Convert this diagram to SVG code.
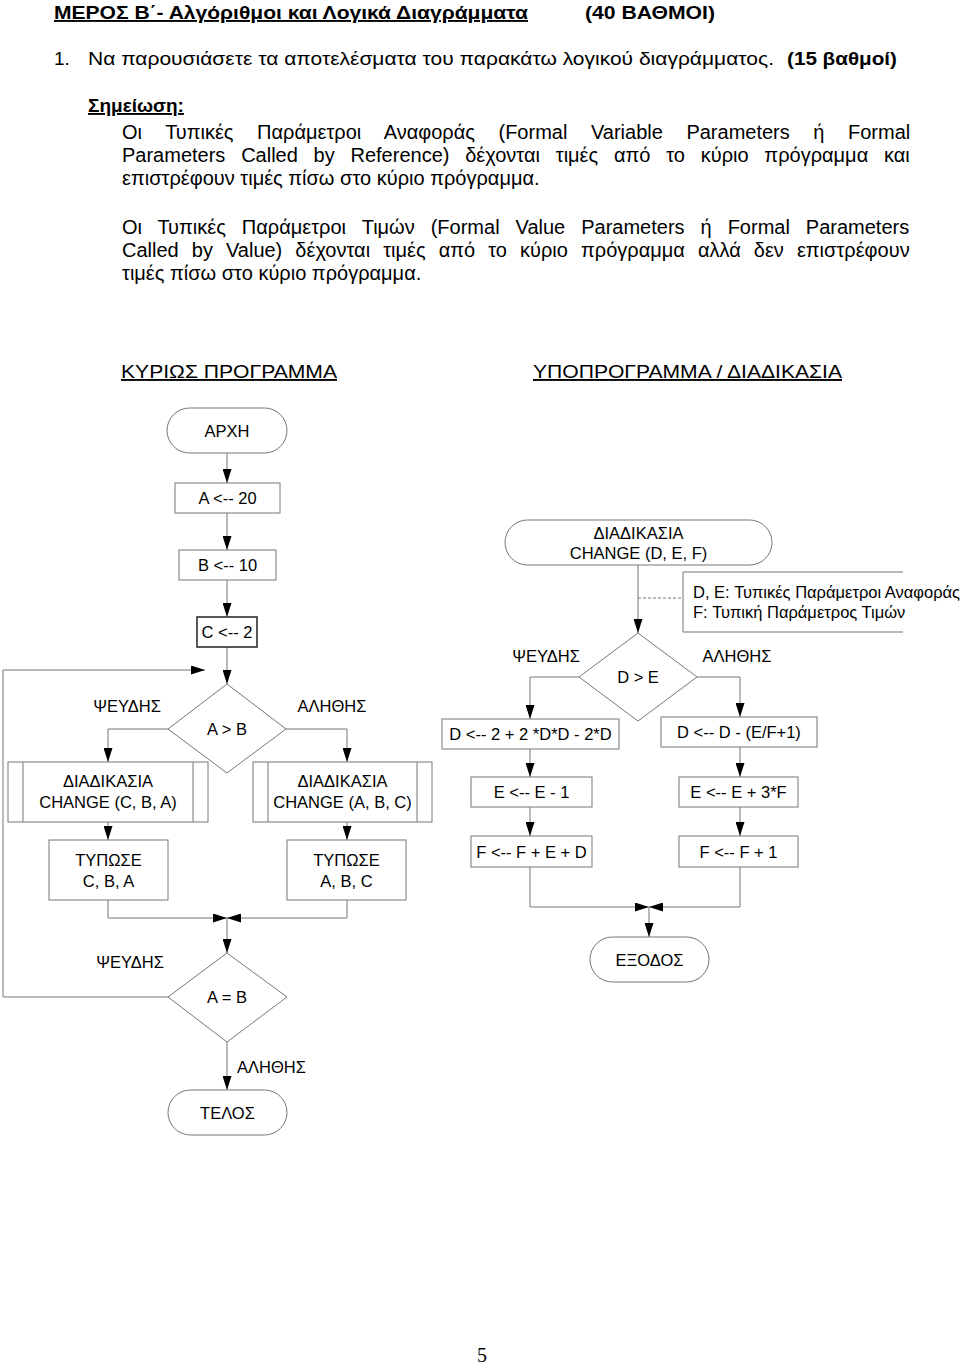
<svg xmlns="http://www.w3.org/2000/svg" width="960" height="1365" viewBox="0 0 960 1365">
<style>
.h{font-family:"Liberation Sans",Arial,sans-serif;font-size:19px;fill:#000}
.p{font-family:"Liberation Sans",Arial,sans-serif;font-size:20px;fill:#000}
.b{font-weight:bold}
.u{text-decoration:underline}
.t{font-family:"Liberation Sans",Arial,sans-serif;font-size:16.5px;fill:#000;text-anchor:middle}
.tl{font-family:"Liberation Sans",Arial,sans-serif;font-size:16.5px;fill:#000}
.n{fill:#fff;stroke:#777;stroke-width:1}
.nd{fill:#fff;stroke:#222;stroke-width:1.5}
.c{fill:none;stroke:#777;stroke-width:1}
</style>
<defs>
<marker id="ah" markerWidth="14" markerHeight="9" refX="14" refY="4.5" viewBox="0 0 14 9" orient="auto" markerUnits="userSpaceOnUse">
<path d="M0,0 L14,4.5 L0,9 Z" fill="#000"/>
</marker>
</defs>
<rect width="960" height="1365" fill="#fff"/>

<g id="header">
<text class="h b u" x="54" y="19" textLength="474" lengthAdjust="spacingAndGlyphs">ΜΕΡΟΣ Β΄- Αλγόριθμοι και Λογικά Διαγράμματα</text>
<text class="h b" x="585" y="19" textLength="130" lengthAdjust="spacingAndGlyphs">(40 ΒΑΘΜΟΙ)</text>
<text class="h" x="54" y="65">1.</text>
<text class="h" x="88" y="65" textLength="686" lengthAdjust="spacingAndGlyphs">Να παρουσιάσετε τα αποτελέσματα του παρακάτω λογικού διαγράμματος.</text>
<text class="h b" x="787" y="65" textLength="110" lengthAdjust="spacingAndGlyphs">(15 βαθμοί)</text>
<text class="h b u" x="88" y="112">Σημείωση:</text>
<text class="p" x="122" y="139" word-spacing="18"><tspan>Οι</tspan> <tspan>Τυπικές</tspan> <tspan>Παράμετροι</tspan> <tspan>Αναφοράς</tspan> <tspan>(Formal</tspan> <tspan>Variable</tspan> <tspan>Parameters</tspan> <tspan>ή</tspan> <tspan>Formal</tspan></text>
<text class="p" x="122" y="162" word-spacing="10.2"><tspan>Parameters</tspan> <tspan>Called</tspan> <tspan>by</tspan> <tspan>Reference)</tspan> <tspan>δέχονται</tspan> <tspan>τιμές</tspan> <tspan>από</tspan> <tspan>το</tspan> <tspan>κύριο</tspan> <tspan>πρόγραμμα</tspan> <tspan>και</tspan></text>
<text class="p" x="122" y="185"><tspan>επιστρέφουν</tspan> <tspan>τιμές</tspan> <tspan>πίσω</tspan> <tspan>στο</tspan> <tspan>κύριο</tspan> <tspan>πρόγραμμα.</tspan></text>
<text class="p" x="122" y="234" word-spacing="10.4"><tspan>Οι</tspan> <tspan>Τυπικές</tspan> <tspan>Παράμετροι</tspan> <tspan>Τιμών</tspan> <tspan>(Formal</tspan> <tspan>Value</tspan> <tspan>Parameters</tspan> <tspan>ή</tspan> <tspan>Formal</tspan> <tspan>Parameters</tspan></text>
<text class="p" x="122" y="257" word-spacing="7.5"><tspan>Called</tspan> <tspan>by</tspan> <tspan>Value)</tspan> <tspan>δέχονται</tspan> <tspan>τιμές</tspan> <tspan>από</tspan> <tspan>το</tspan> <tspan>κύριο</tspan> <tspan>πρόγραμμα</tspan> <tspan>αλλά</tspan> <tspan>δεν</tspan> <tspan>επιστρέφουν</tspan></text>
<text class="p" x="122" y="280"><tspan>τιμές</tspan> <tspan>πίσω</tspan> <tspan>στο</tspan> <tspan>κύριο</tspan> <tspan>πρόγραμμα.</tspan></text>
<text class="h u" x="121" y="378" textLength="216" lengthAdjust="spacingAndGlyphs">ΚΥΡΙΩΣ ΠΡΟΓΡΑΜΜΑ</text>
<text class="h u" x="533" y="378" textLength="309" lengthAdjust="spacingAndGlyphs">ΥΠΟΠΡΟΓΡΑΜΜΑ / ΔΙΑΔΙΚΑΣΙΑ</text>
</g>

<g id="connectors">
<line class="c" x1="227" y1="453" x2="227" y2="483" marker-end="url(#ah)"/>
<line class="c" x1="227" y1="513" x2="227" y2="550" marker-end="url(#ah)"/>
<line class="c" x1="227" y1="580" x2="227" y2="617" marker-end="url(#ah)"/>
<line class="c" x1="227" y1="647" x2="227" y2="684" marker-end="url(#ah)"/>
<polyline class="c" points="168,729 108,729 108,762" marker-end="url(#ah)"/>
<polyline class="c" points="286,729 347,729 347,762" marker-end="url(#ah)"/>
<line class="c" x1="108" y1="822" x2="108" y2="840" marker-end="url(#ah)"/>
<line class="c" x1="347" y1="822" x2="347" y2="840" marker-end="url(#ah)"/>
<polyline class="c" points="108,900 108,918 227,918" marker-end="url(#ah)"/>
<polyline class="c" points="347,900 347,918 227,918" marker-end="url(#ah)"/>
<line class="c" x1="227" y1="918" x2="227" y2="953" marker-end="url(#ah)"/>
<polyline class="c" points="168,997 3,997 3,670 205,670" marker-end="url(#ah)"/>
<line class="c" x1="227" y1="1042" x2="227" y2="1090" marker-end="url(#ah)"/>
<line class="c" x1="638" y1="565" x2="638" y2="633" marker-end="url(#ah)"/>
<line class="c" x1="638" y1="598" x2="683" y2="598" stroke-dasharray="3,2"/>
<polyline class="c" points="903,572 683,572 683,632 903,632"/>
<polyline class="c" points="579,677 530,677 530,719" marker-end="url(#ah)"/>
<polyline class="c" points="697,677 740,677 740,717" marker-end="url(#ah)"/>
<line class="c" x1="530" y1="749" x2="530" y2="777" marker-end="url(#ah)"/>
<line class="c" x1="530" y1="807" x2="530" y2="836" marker-end="url(#ah)"/>
<line class="c" x1="740" y1="747" x2="740" y2="777" marker-end="url(#ah)"/>
<line class="c" x1="740" y1="807" x2="740" y2="836" marker-end="url(#ah)"/>
<polyline class="c" points="530,867 530,907 649,907" marker-end="url(#ah)"/>
<polyline class="c" points="740,867 740,907 649,907" marker-end="url(#ah)"/>
<line class="c" x1="649" y1="907" x2="649" y2="937" marker-end="url(#ah)"/>
</g>

<g id="start"><rect class="n" x="167" y="408" width="120" height="45" rx="22.5"/><text class="t" x="227" y="436.5">ΑΡΧΗ</text></g>
<g id="a20"><rect class="n" x="175" y="483" width="105" height="30"/><text class="t" x="227.5" y="504">A &lt;-- 20</text></g>
<g id="b10"><rect class="n" x="179" y="550" width="97" height="30"/><text class="t" x="227.5" y="571">B &lt;-- 10</text></g>
<g id="c2"><rect class="nd" x="197" y="617" width="60" height="30"/><text class="t" x="227" y="638">C &lt;-- 2</text></g>
<g id="d1"><polygon class="n" points="227,684 286,729 227,773 168,729"/><text class="t" x="227" y="735">A &gt; B</text></g>
<g id="lbl1"><text class="t" x="127" y="712">ΨΕΥΔΗΣ</text><text class="t" x="332" y="712">ΑΛΗΘΗΣ</text></g>
<g id="callL"><rect class="n" x="8" y="762" width="200" height="60"/><line class="c" x1="23" y1="762" x2="23" y2="822"/><line class="c" x1="193" y1="762" x2="193" y2="822"/><text class="t" x="108" y="787">ΔΙΑΔΙΚΑΣΙΑ</text><text class="t" x="108" y="808">CHANGE (C, B, A)</text></g>
<g id="callR"><rect class="n" x="253" y="762" width="179" height="60"/><line class="c" x1="268" y1="762" x2="268" y2="822"/><line class="c" x1="417" y1="762" x2="417" y2="822"/><text class="t" x="342.5" y="787">ΔΙΑΔΙΚΑΣΙΑ</text><text class="t" x="342.5" y="808">CHANGE (A, B, C)</text></g>
<g id="printL"><rect class="n" x="49" y="840" width="119" height="60"/><text class="t" x="108.5" y="866">ΤΥΠΩΣΕ</text><text class="t" x="108.5" y="887">C, B, A</text></g>
<g id="printR"><rect class="n" x="287" y="840" width="119" height="60"/><text class="t" x="346.5" y="866">ΤΥΠΩΣΕ</text><text class="t" x="346.5" y="887">A, B, C</text></g>
<g id="d2"><polygon class="n" points="227,953 287,997 227,1042 168,997"/><text class="t" x="227" y="1003">A = B</text></g>
<g id="lbl2"><text class="t" x="130" y="968">ΨΕΥΔΗΣ</text><text class="tl" x="237" y="1073">ΑΛΗΘΗΣ</text></g>
<g id="end"><rect class="n" x="168" y="1090" width="119" height="45" rx="22.5"/><text class="t" x="227.5" y="1118.5">ΤΕΛΟΣ</text></g>

<g id="sub"><rect class="n" x="505" y="520" width="267" height="45" rx="22.5"/><text class="t" x="638.5" y="539">ΔΙΑΔΙΚΑΣΙΑ</text><text class="t" x="638.5" y="559">CHANGE (D, E, F)</text></g>
<g id="note"><text class="tl" x="693" y="598">D, E: Τυπικές Παράμετροι Αναφοράς</text><text class="tl" x="693" y="618">F: Τυπική Παράμετρος Τιμών</text></g>
<g id="d3"><polygon class="n" points="638,633 697,677 638,721 579,677"/><text class="t" x="638" y="683">D &gt; E</text></g>
<g id="lbl3"><text class="t" x="546" y="662">ΨΕΥΔΗΣ</text><text class="t" x="737" y="662">ΑΛΗΘΗΣ</text></g>
<g id="dl"><rect class="n" x="442" y="719" width="177" height="30"/><text class="t" x="530.5" y="740">D &lt;-- 2 + 2 *D*D - 2*D</text></g>
<g id="dr"><rect class="n" x="661" y="717" width="156" height="30"/><text class="t" x="739" y="738">D &lt;-- D - (E/F+1)</text></g>
<g id="el"><rect class="n" x="471" y="777" width="121" height="30"/><text class="t" x="531.5" y="798">E &lt;-- E - 1</text></g>
<g id="er"><rect class="n" x="679" y="777" width="119" height="30"/><text class="t" x="738.5" y="798">E &lt;-- E + 3*F</text></g>
<g id="fl"><rect class="n" x="471" y="836" width="121" height="31"/><text class="t" x="531.5" y="857.5">F &lt;-- F + E + D</text></g>
<g id="fr"><rect class="n" x="679" y="836" width="119" height="31"/><text class="t" x="738.5" y="857.5">F &lt;-- F + 1</text></g>
<g id="exit"><rect class="n" x="590" y="937" width="119" height="45" rx="22.5"/><text class="t" x="649.5" y="965.5">ΕΞΟΔΟΣ</text></g>

<text x="482" y="1362" font-family="'Liberation Serif','Times New Roman',serif" font-size="20" text-anchor="middle">5</text>
</svg>
